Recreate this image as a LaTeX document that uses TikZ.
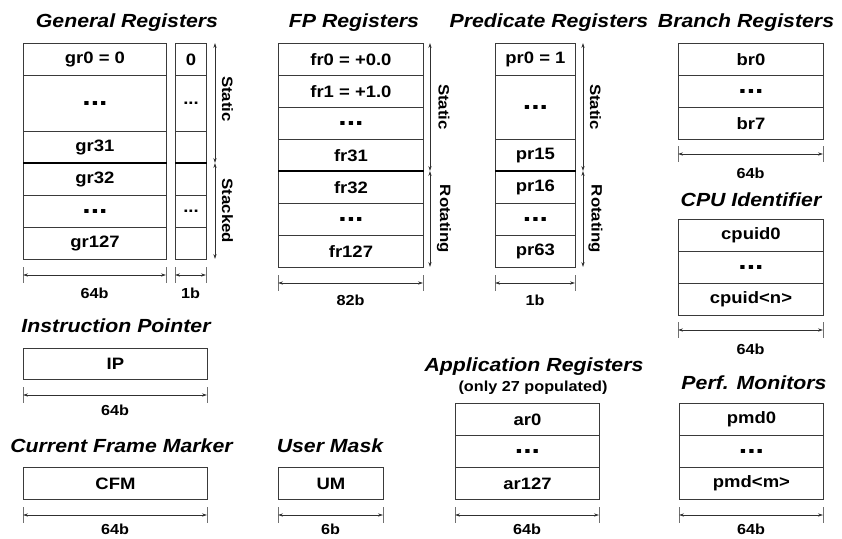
\documentclass[tikz,border=0pt]{standalone}
\usepackage{fontspec}
\setmainfont{Liberation Sans}[FakeStretch=1.12]
\usetikzlibrary{arrows.meta}
\definecolor{bordc}{HTML}{3A3A3A}
\definecolor{spanc}{HTML}{303030}
\definecolor{tickc}{HTML}{707070}
\newcommand\widthmark[6]{%
  \coordinate (#1l) at (#2,#4);
  \coordinate (#1r) at (#3,#4);
  \draw[tickln] ([yshift=8pt]#1l) -- ([yshift=-8pt]#1l);
  \draw[tickln] ([yshift=8pt]#1r) -- ([yshift=-8pt]#1r);
  \draw[spanarr] (#1l) -- (#1r);
  \node[dimlbl] (#1t) at ({(#2+#3)/2},#5) {#6};}
\begin{document}
\begin{tikzpicture}[x=1pt,y=-1pt,
  cell/.style={draw=bordc, line width=0.9pt, inner sep=0pt, anchor=north west,
    font=\fontsize{16.5}{16.5}\selectfont\bfseries},
  bigdots/.style={font=\fontsize{27}{27}\selectfont\bfseries},
  ttl/.style={font=\fontsize{19}{19}\selectfont\bfseries\itshape, inner sep=0pt},
  subttl/.style={font=\fontsize{14.5}{14.5}\selectfont\bfseries, inner sep=0pt},
  spanarr/.style={draw=spanc, line width=0.7pt, {Stealth[length=5pt,width=3.2pt]}-{Stealth[length=5pt,width=3.2pt]}},
  tickln/.style={draw=tickc, line width=0.9pt},
  dimlbl/.style={font=\fontsize{14.5}{14.5}\selectfont\bfseries, inner sep=0pt},
  side/.style={font=\fontsize{15}{15}\selectfont\bfseries, rotate=-90, inner sep=0pt},
  sepline/.style={line width=2.6pt, black}]
\useasboundingbox (0,0) rectangle (842,538);

% ---------------- General Registers
\node[ttl] (tgen) at (127,23) {General Registers};
\node[cell,minimum width=143pt,minimum height=32pt] (gr0) at (23,43) {gr0 = 0};
\node[cell,minimum width=143pt,minimum height=56pt,bigdots] (grd1) at (23,75) {...};
\node[cell,minimum width=143pt,minimum height=32pt] (gr31) at (23,131) {gr31};
\node[cell,minimum width=143pt,minimum height=32pt] (gr32) at (23,163) {gr32};
\node[cell,minimum width=143pt,minimum height=32pt,bigdots] (grd2) at (23,195) {...};
\node[cell,minimum width=143pt,minimum height=32pt] (gr127) at (23,227) {gr127};
\node[cell,minimum width=31pt,minimum height=32pt] (nat0) at (175,43) {0};
\node[cell,minimum width=31pt,minimum height=56pt] (natd1) at (175,75) {...};
\node[cell,minimum width=31pt,minimum height=32pt] (nat31) at (175,131) {};
\node[cell,minimum width=31pt,minimum height=32pt] (nat32) at (175,163) {};
\node[cell,minimum width=31pt,minimum height=32pt] (natd2) at (175,195) {...};
\node[cell,minimum width=31pt,minimum height=32pt] (nat127) at (175,227) {};
\draw[sepline] (gr32.north west) -- (gr32.north east);
\draw[sepline] (nat32.north west) -- (nat32.north east);
\coordinate (gs0) at (215,43);
\coordinate (gs1) at (215,163);
\coordinate (gs2) at (215,259);
\draw[spanarr] (gs0) -- (gs1);
\draw[spanarr] (gs1) -- (gs2);
\node[side] (gst) at (227.5,99) {Static};
\node[side] (gsk) at (227.5,211) {Stacked};
\widthmark{gw}{23}{166}{275}{293}{64b}
\widthmark{nw}{175}{206}{275}{293}{1b}

% ---------------- FP Registers
\node[ttl] (tfp) at (354,23) {FP Registers};
\node[cell,minimum width=145pt,minimum height=32pt] (fr0) at (278,43) {fr0 = +0.0};
\node[cell,minimum width=145pt,minimum height=32pt] (fr1) at (278,75) {fr1 = +1.0};
\node[cell,minimum width=145pt,minimum height=32pt,bigdots] (frd1) at (278,107) {...};
\node[cell,minimum width=145pt,minimum height=32pt] (fr31) at (278,139) {fr31};
\node[cell,minimum width=145pt,minimum height=32pt] (fr32) at (278,171) {fr32};
\node[cell,minimum width=145pt,minimum height=32pt,bigdots] (frd2) at (278,203) {...};
\node[cell,minimum width=145pt,minimum height=32pt] (fr127) at (278,235) {fr127};
\draw[sepline] (fr32.north west) -- (fr32.north east);
\coordinate (fs0) at (430,43);
\coordinate (fs1) at (430,171);
\coordinate (fs2) at (430,267);
\draw[spanarr] (fs0) -- (fs1);
\draw[spanarr] (fs1) -- (fs2);
\node[side] (fst) at (444,107) {Static};
\node[side] (fsr) at (444,219) {Rotating};
\widthmark{fw}{278}{423}{283}{300}{82b}

% ---------------- Predicate Registers
\node[ttl] (tpr) at (549,23) {Predicate Registers};
\node[cell,minimum width=80pt,minimum height=32pt] (pr0) at (495,43) {pr0 = 1};
\node[cell,minimum width=80pt,minimum height=64pt,bigdots] (prd1) at (495,75) {...};
\node[cell,minimum width=80pt,minimum height=32pt] (pr15) at (495,139) {pr15};
\node[cell,minimum width=80pt,minimum height=32pt] (pr16) at (495,171) {pr16};
\node[cell,minimum width=80pt,minimum height=32pt,bigdots] (prd2) at (495,203) {...};
\node[cell,minimum width=80pt,minimum height=32pt] (pr63) at (495,235) {pr63};
\draw[sepline] (pr16.north west) -- (pr16.north east);
\coordinate (ps0) at (583,43);
\coordinate (ps1) at (583,171);
\coordinate (ps2) at (583,267);
\draw[spanarr] (ps0) -- (ps1);
\draw[spanarr] (ps1) -- (ps2);
\node[side] (pst) at (595.5,107) {Static};
\node[side] (psr) at (595.5,219) {Rotating};
\widthmark{pw}{495}{575}{283}{300}{1b}

% ---------------- Branch Registers
\node[ttl] (tbr) at (746,23) {Branch Registers};
\node[cell,minimum width=145pt,minimum height=32pt] (br0) at (678,43) {br0};
\node[cell,minimum width=145pt,minimum height=32pt,bigdots] (brd) at (678,75) {...};
\node[cell,minimum width=145pt,minimum height=32pt] (br7) at (678,107) {br7};
\widthmark{bw}{678}{823}{154}{173}{64b}

% ---------------- CPU Identifier
\node[ttl] (tcpu) at (751,200) {CPU Identifier};
\node[cell,minimum width=145pt,minimum height=32pt] (cpu0) at (678,219) {cpuid0};
\node[cell,minimum width=145pt,minimum height=32pt,bigdots] (cpud) at (678,251) {...};
\node[cell,minimum width=145pt,minimum height=32pt] (cpun) at (678,283) {cpuid<n>};
\widthmark{cw}{678}{823}{330}{349}{64b}

% ---------------- Instruction Pointer
\node[ttl] (tip) at (116,326) {Instruction Pointer};
\node[cell,minimum width=184pt,minimum height=31pt] (ip) at (23,348) {IP};
\widthmark{iw}{23}{207}{395}{410}{64b}

% ---------------- Current Frame Marker
\node[ttl] (tcfm) at (121.5,446) {Current Frame Marker};
\node[cell,minimum width=184pt,minimum height=32pt] (cfm) at (23,467) {CFM};
\widthmark{mw}{23}{207}{515}{529}{64b}

% ---------------- User Mask
\node[ttl] (tum) at (330,446) {User Mask};
\node[cell,minimum width=105pt,minimum height=32pt] (um) at (278,467) {UM};
\widthmark{uw}{278}{383}{515}{529}{6b}

% ---------------- Application Registers
\node[ttl] (tar) at (534,367) {Application Registers};
\node[subttl] (tars) at (533,388) {(only 27 populated)};
\node[cell,minimum width=144pt,minimum height=32pt] (ar0) at (455,403) {ar0};
\node[cell,minimum width=144pt,minimum height=32pt,bigdots] (ard) at (455,435) {...};
\node[cell,minimum width=144pt,minimum height=32pt] (ar127) at (455,467) {ar127};
\widthmark{aw}{455}{599}{515}{529}{64b}

% ---------------- Perf. Monitors
\node[ttl] (tpm) at (754,383) {Perf. Monitors};
\node[cell,minimum width=144pt,minimum height=32pt] (pm0) at (679,403) {pmd0};
\node[cell,minimum width=144pt,minimum height=32pt,bigdots] (pmd) at (679,435) {...};
\node[cell,minimum width=144pt,minimum height=32pt] (pmm) at (679,467) {pmd<m>};
\widthmark{ew}{679}{823}{515}{529}{64b}
\end{tikzpicture}
\end{document}
